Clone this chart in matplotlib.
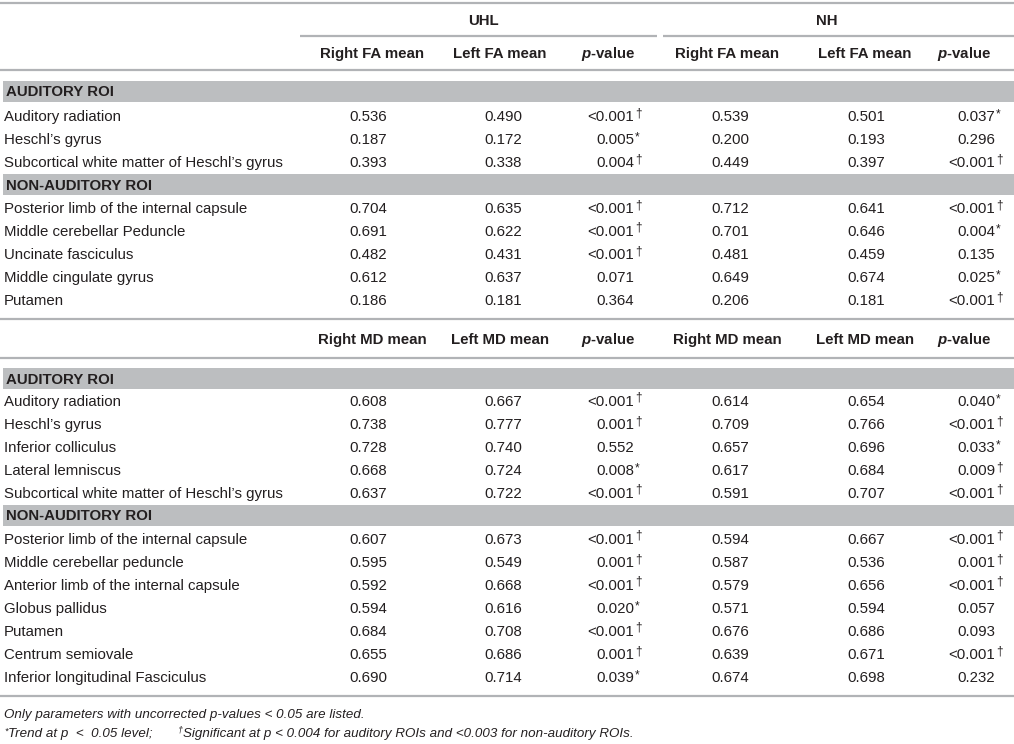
import matplotlib
matplotlib.use("Agg")
import matplotlib.pyplot as plt

plt.rcParams['font.family'] = ['Liberation Sans', 'DejaVu Sans']
plt.rcParams['mathtext.fontset'] = 'custom'
plt.rcParams['mathtext.it'] = 'Liberation Sans:italic:bold'

# ---------------- data ----------------
groups = ["UHL", "NH"]
fa_columns = ["Right FA mean", "Left FA mean", "p-value", "Right FA mean", "Left FA mean", "p-value"]
md_columns = ["Right MD mean", "Left MD mean", "p-value", "Right MD mean", "Left MD mean", "p-value"]
section_aud = "AUDITORY ROI"
section_non = "NON-AUDITORY ROI"

fa_aud_regions = ["Auditory radiation", "Heschl\u2019s gyrus",
                  "Subcortical white matter of Heschl\u2019s gyrus"]
fa_aud_uhl_right = ["0.536", "0.187", "0.393"]
fa_aud_uhl_left = ["0.490", "0.172", "0.338"]
fa_aud_uhl_p = ["<0.001\u2020", "0.005*", "0.004\u2020"]
fa_aud_nh_right = ["0.539", "0.200", "0.449"]
fa_aud_nh_left = ["0.501", "0.193", "0.397"]
fa_aud_nh_p = ["0.037*", "0.296", "<0.001\u2020"]

fa_non_regions = ["Posterior limb of the internal capsule", "Middle cerebellar Peduncle",
                  "Uncinate fasciculus", "Middle cingulate gyrus", "Putamen"]
fa_non_uhl_right = ["0.704", "0.691", "0.482", "0.612", "0.186"]
fa_non_uhl_left = ["0.635", "0.622", "0.431", "0.637", "0.181"]
fa_non_uhl_p = ["<0.001\u2020", "<0.001\u2020", "<0.001\u2020", "0.071", "0.364"]
fa_non_nh_right = ["0.712", "0.701", "0.481", "0.649", "0.206"]
fa_non_nh_left = ["0.641", "0.646", "0.459", "0.674", "0.181"]
fa_non_nh_p = ["<0.001\u2020", "0.004*", "0.135", "0.025*", "<0.001\u2020"]

md_aud_regions = ["Auditory radiation", "Heschl\u2019s gyrus", "Inferior colliculus",
                  "Lateral lemniscus", "Subcortical white matter of Heschl\u2019s gyrus"]
md_aud_uhl_right = ["0.608", "0.738", "0.728", "0.668", "0.637"]
md_aud_uhl_left = ["0.667", "0.777", "0.740", "0.724", "0.722"]
md_aud_uhl_p = ["<0.001\u2020", "0.001\u2020", "0.552", "0.008*", "<0.001\u2020"]
md_aud_nh_right = ["0.614", "0.709", "0.657", "0.617", "0.591"]
md_aud_nh_left = ["0.654", "0.766", "0.696", "0.684", "0.707"]
md_aud_nh_p = ["0.040*", "<0.001\u2020", "0.033*", "0.009\u2020", "<0.001\u2020"]

md_non_regions = ["Posterior limb of the internal capsule", "Middle cerebellar peduncle",
                  "Anterior limb of the internal capsule", "Globus pallidus", "Putamen",
                  "Centrum semiovale", "Inferior longitudinal Fasciculus"]
md_non_uhl_right = ["0.607", "0.595", "0.592", "0.594", "0.684", "0.655", "0.690"]
md_non_uhl_left = ["0.673", "0.549", "0.668", "0.616", "0.708", "0.686", "0.714"]
md_non_uhl_p = ["<0.001\u2020", "0.001\u2020", "<0.001\u2020", "0.020*", "<0.001\u2020", "0.001\u2020", "0.039*"]
md_non_nh_right = ["0.594", "0.587", "0.579", "0.571", "0.676", "0.639", "0.674"]
md_non_nh_left = ["0.667", "0.536", "0.656", "0.594", "0.686", "0.671", "0.698"]
md_non_nh_p = ["<0.001\u2020", "0.001\u2020", "<0.001\u2020", "0.057", "0.093", "<0.001\u2020", "0.232"]

footnote1 = "Only parameters with uncorrected p-values < 0.05 are listed."
footnote2_a = "Trend at p  <  0.05 level;"
footnote2_b = "Significant at p < 0.004 for auditory ROIs and <0.003 for non-auditory ROIs."

# ---------------- style ----------------
W, H = 1014, 744
TXT = "#231f20"
LINE = "#b1b3b6"
BAND = "#bcbec0"
FS = 10.8
FFS = 9.6
LW = 1.6
BL = 5  # baseline offset from row centre, px

fig = plt.figure(figsize=(W / 100, H / 100), dpi=100)
ax = fig.add_axes([0, 0, 1, 1])
ax.set_xlim(0, W)
ax.set_ylim(H, 0)
ax.axis("off")

label_x = 4
center_cols = [368, 503, None, 730, 866, None]
p_right = {2: 634, 5: 995}
hdr_center = [372, 500, 608, 727, 865, 964]


def txt(x, y, s, ha="left", fs=FS, **kw):
    ax.text(x, y + BL, s, ha=ha, va="baseline", fontsize=fs, color=TXT, **kw)


def hline(y, x0=0, x1=W):
    ax.plot([x0, x1], [y, y], color=LINE, lw=LW, solid_capstyle="butt")


def band(y0, y1, text):
    ax.fill_between([3, W], y0, y1, color=BAND, lw=0)
    txt(label_x + 2, (y0 + y1) / 2, text, fontweight="bold")


def pval(x, y, s):
    suffix = ""
    if s.endswith("\u2020") or s.endswith("*"):
        suffix = s[-1]
        s = s[:-1]
    txt(x, y, s, ha="right")
    if suffix == "\u2020":
        txt(x + 1.5, y - 5, suffix, fs=8.5)
    elif suffix == "*":
        txt(x + 0.5, y - 3.5, suffix, fs=8.5)


def rows(y, regions, cols):
    for i, reg in enumerate(regions):
        yy = y + 23 * i
        txt(label_x, yy, reg)
        for j, col in enumerate(cols):
            if j in p_right:
                pval(p_right[j], yy, col[i])
            else:
                txt(center_cols[j], yy, col[i], ha="center")
    return y + 23 * (len(regions) - 1)


def header(y, cols):
    for j, c in enumerate(cols):
        if c == "p-value":
            txt(hdr_center[j], y, r"$\mathit{p}$" + "-value", ha="center", fontweight="bold")
        else:
            txt(hdr_center[j], y, c, ha="center", fontweight="bold")


# top part
hline(3)
txt(483, 20, groups[0], ha="center", fontweight="bold")
txt(827, 20, groups[1], ha="center", fontweight="bold")
hline(36, 300, 657)
hline(36, 663, W)
header(53, fa_columns)
hline(70)

band(81, 102, section_aud)
last = rows(116, fa_aud_regions, [fa_aud_uhl_right, fa_aud_uhl_left, fa_aud_uhl_p,
                                  fa_aud_nh_right, fa_aud_nh_left, fa_aud_nh_p])
band(last + 12, last + 33, section_non)
last = rows(last + 46, fa_non_regions, [fa_non_uhl_right, fa_non_uhl_left, fa_non_uhl_p,
                                        fa_non_nh_right, fa_non_nh_left, fa_non_nh_p])
yl = last + 19
hline(yl)
header(yl + 20, md_columns)
hline(yl + 39)
b0 = yl + 49
band(b0, b0 + 21, section_aud)
last = rows(b0 + 33, md_aud_regions, [md_aud_uhl_right, md_aud_uhl_left, md_aud_uhl_p,
                                      md_aud_nh_right, md_aud_nh_left, md_aud_nh_p])
band(last + 12, last + 33, section_non)
last = rows(last + 46, md_non_regions, [md_non_uhl_right, md_non_uhl_left, md_non_uhl_p,
                                        md_non_nh_right, md_non_nh_left, md_non_nh_p])
yb = last + 19
hline(yb)

# footnotes
ax.text(4, yb + 19, footnote1, ha="left", va="center", fontsize=FFS, style="italic", color=TXT)

renderer = fig.canvas.get_renderer()


def piece(x, y, s, fs):
    t = ax.text(x, y, s, ha="left", va="center", fontsize=fs, style="italic", color=TXT)
    bb = t.get_window_extent(renderer=renderer)
    return x + bb.width


y2 = yb + 38
x = piece(4, y2 - 3, "*", 6.5)
x = piece(x + 1, y2, footnote2_a, FFS)
x = piece(x + 24, y2 - 4, "\u2020", 6.5)
piece(x + 0.5, y2, footnote2_b, FFS)

fig.savefig("out.png", dpi=100)
